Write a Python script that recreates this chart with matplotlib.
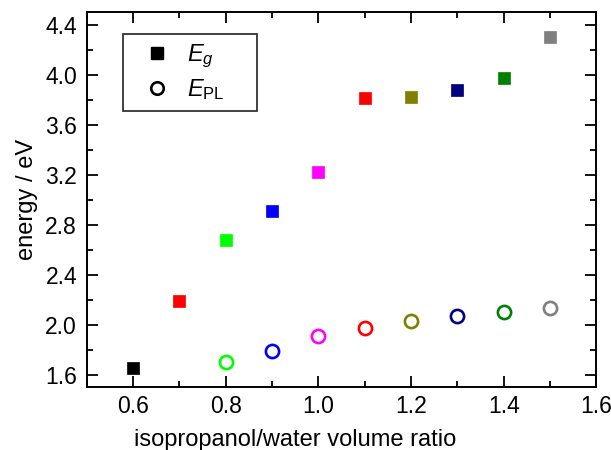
import numpy as np
import matplotlib
matplotlib.use("Agg")
import matplotlib.pyplot as plt
from matplotlib.ticker import MultipleLocator, FormatStrFormatter

plt.rcParams["font.family"] = ["Liberation Sans", "DejaVu Sans"]
plt.rcParams["mathtext.fontset"] = "custom"
plt.rcParams["mathtext.rm"] = "Liberation Sans"
plt.rcParams["mathtext.it"] = "Liberation Sans:italic"

# isopropanol/water volume ratio
ratio_eg = [0.6, 0.7, 0.8, 0.9, 1.0, 1.1, 1.2, 1.3, 1.4, 1.5]
energy_eg = [1.65, 2.19, 2.68, 2.91, 3.22, 3.81, 3.82, 3.88, 3.97, 4.30]
colors_eg = ["black", "red", "#00ff00", "blue", "magenta", "red", "#808000", "#000080", "#008000", "#808080"]

ratio_pl = [0.8, 0.9, 1.0, 1.1, 1.2, 1.3, 1.4, 1.5]
energy_pl = [1.70, 1.79, 1.91, 1.97, 2.03, 2.07, 2.10, 2.13]
colors_pl = ["#00ff00", "blue", "magenta", "red", "#808000", "#000080", "#008000", "#808080"]

fig = plt.figure(figsize=(6.11, 4.5), dpi=100)
ax = fig.add_axes([0.142, 0.14, 0.834, 0.833])

for x, y, c in zip(ratio_eg, energy_eg, colors_eg):
    ax.plot(x, y, "s", ms=9, color=c, mec=c, mew=0.5)
for x, y, c in zip(ratio_pl, energy_pl, colors_pl):
    ax.plot(x, y, "o", ms=9.5, mfc="white", mec=c, mew=1.9)

# legend handles
ax.plot([], [], "s", ms=9, color="black", label=r"$E_g$")
ax.plot([], [], "o", ms=9, mfc="white", mec="black", mew=1.9, label=r"$E_{\rm PL}$")
leg = ax.legend(loc="upper left", bbox_to_anchor=(0.0707, 0.741, 0.263, 0.2), mode="expand",
                fontsize=17, frameon=True, fancybox=False, edgecolor="black",
                handlelength=2.2, handletextpad=0.15, borderpad=0.36, labelspacing=0.3,
                borderaxespad=0)
leg.get_frame().set_linewidth(1.3)

ax.set_xlim(0.5, 1.6)
ax.set_ylim(1.5, 4.5)
ax.xaxis.set_minor_locator(MultipleLocator(0.1))
ax.yaxis.set_minor_locator(MultipleLocator(0.2))
ax.set_yticks(np.arange(1.6, 4.41, 0.4))
ax.set_xticks(np.arange(0.6, 1.61, 0.2))
ax.xaxis.set_major_formatter(FormatStrFormatter("%.1f"))
ax.yaxis.set_major_formatter(FormatStrFormatter("%.1f"))

ax.tick_params(which="both", direction="in", top=True, right=True, width=1.3, labelsize=16.5)
ax.tick_params(which="major", length=8)
ax.tick_params(axis="x", which="major", pad=6)
ax.tick_params(axis="y", which="major", pad=7)
ax.tick_params(which="minor", length=4.5)
for s in ax.spines.values():
    s.set_linewidth(1.4)

ax.set_xlabel("isopropanol/water volume ratio", fontsize=17)
ax.xaxis.set_label_coords(0.409, -0.113, transform=ax.transAxes)
ax.xaxis.label.set_va("top")
ax.set_ylabel("energy / eV", fontsize=17, labelpad=5)

fig.savefig("out.png", dpi=100)
